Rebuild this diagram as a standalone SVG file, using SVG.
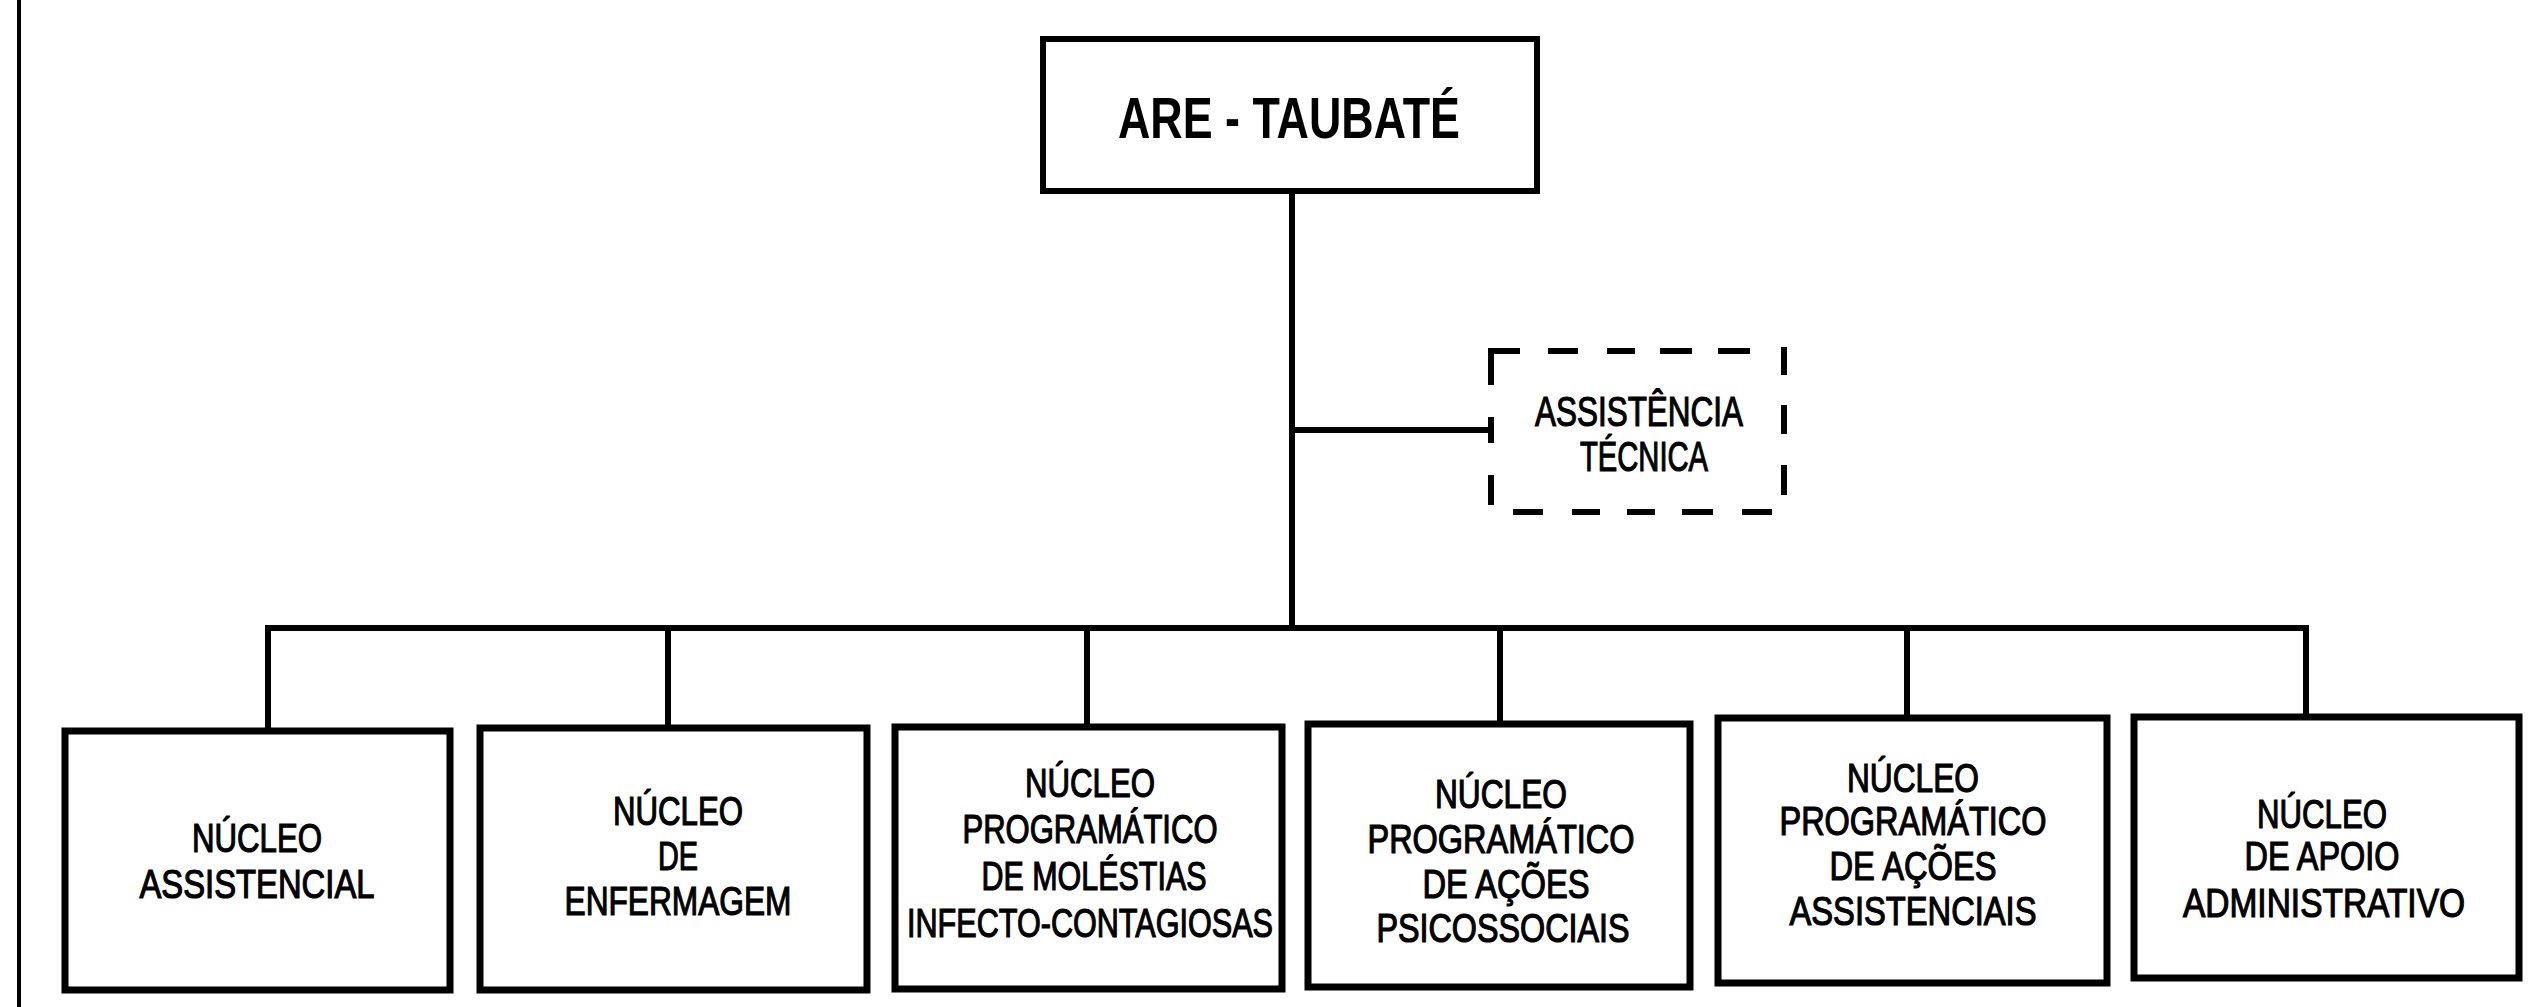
<svg xmlns="http://www.w3.org/2000/svg" width="2537" height="1007" viewBox="0 0 2537 1007">
<style>
.box{fill:#fff;stroke:#000;stroke-width:7}
.top{fill:#fff;stroke:#000;stroke-width:6}
.dash{fill:none;stroke:#000;stroke-width:6}
.ln{fill:none;stroke:#000;stroke-width:6}
.t{font-family:"Liberation Sans",Arial,sans-serif;font-size:40px;fill:#000;stroke:#000;stroke-width:1.2;text-anchor:middle}
.tb{font-family:"Liberation Sans",Arial,sans-serif;font-size:57px;font-weight:bold;fill:#000;text-anchor:middle}
.ta{font-family:"Liberation Sans",Arial,sans-serif;font-size:42px;fill:#000;stroke:#000;stroke-width:1.2;text-anchor:middle}
</style>
<rect width="2537" height="1007" fill="#fff"/>
<line x1="19" y1="0" x2="19" y2="1007" stroke="#000" stroke-width="4"/>
<g id="connectors">
<path class="ln" d="M1292,191 V628 M1292,430 H1491 M268,731 V628 H2306 V717 M668,628 V728 M1087,628 V727 M1500,628 V724 M1907,628 V718"/>
</g>
<g id="are-taubate">
<rect class="top" x="1043" y="39" width="494" height="152"/>
<text class="tb" x="1289" y="138" textLength="342" lengthAdjust="spacingAndGlyphs">ARE - TAUBATÉ</text>
</g>
<g id="assistencia-tecnica">
<path class="dash" d="M1491,385 V351 H1520 M1548,351 H1578 M1607,351 H1635 M1660,351 H1692 M1718,351 H1750 M1784,347 V375 M1784,405 V434 M1784,465 V495 M1772,512 H1742 M1713,512 H1682 M1655,512 H1627 M1600,512 H1572 M1543,512 H1513 M1491,505 V475 M1491,443 V417"/>
<text class="ta" x="1639" y="426" textLength="208" lengthAdjust="spacingAndGlyphs">ASSISTÊNCIA</text>
<text class="ta" x="1644" y="471" textLength="128" lengthAdjust="spacingAndGlyphs">TÉCNICA</text>
</g>
<g id="nucleo-assistencial">
<rect class="box" x="65" y="731" width="385" height="259"/>
<text class="t" x="257" y="852" textLength="130" lengthAdjust="spacingAndGlyphs">NÚCLEO</text>
<text class="t" x="257" y="898" textLength="235" lengthAdjust="spacingAndGlyphs">ASSISTENCIAL</text>
</g>
<g id="nucleo-enfermagem">
<rect class="box" x="480" y="728" width="387" height="262"/>
<text class="t" x="678" y="825" textLength="130" lengthAdjust="spacingAndGlyphs">NÚCLEO</text>
<text class="t" x="678" y="870" textLength="40" lengthAdjust="spacingAndGlyphs">DE</text>
<text class="t" x="678" y="915" textLength="227" lengthAdjust="spacingAndGlyphs">ENFERMAGEM</text>
</g>
<g id="nucleo-molestias">
<rect class="box" x="895" y="727" width="387" height="262"/>
<text class="t" x="1090" y="797" textLength="130" lengthAdjust="spacingAndGlyphs">NÚCLEO</text>
<text class="t" x="1090" y="843" textLength="255" lengthAdjust="spacingAndGlyphs">PROGRAMÁTICO</text>
<text class="t" x="1094" y="890" textLength="225" lengthAdjust="spacingAndGlyphs">DE MOLÉSTIAS</text>
<text class="t" x="1090" y="937" textLength="366" lengthAdjust="spacingAndGlyphs">INFECTO-CONTAGIOSAS</text>
</g>
<g id="nucleo-psicossociais">
<rect class="box" x="1308" y="724" width="382" height="263"/>
<text class="t" x="1501" y="808" textLength="132" lengthAdjust="spacingAndGlyphs">NÚCLEO</text>
<text class="t" x="1501" y="853" textLength="267" lengthAdjust="spacingAndGlyphs">PROGRAMÁTICO</text>
<text class="t" x="1506" y="898" textLength="167" lengthAdjust="spacingAndGlyphs">DE AÇÕES</text>
<text class="t" x="1503" y="942" textLength="253" lengthAdjust="spacingAndGlyphs">PSICOSSOCIAIS</text>
</g>
<g id="nucleo-assistenciais">
<rect class="box" x="1718" y="718" width="389" height="265"/>
<text class="t" x="1913" y="792" textLength="132" lengthAdjust="spacingAndGlyphs">NÚCLEO</text>
<text class="t" x="1913" y="835" textLength="267" lengthAdjust="spacingAndGlyphs">PROGRAMÁTICO</text>
<text class="t" x="1913" y="880" textLength="167" lengthAdjust="spacingAndGlyphs">DE AÇÕES</text>
<text class="t" x="1913" y="925" textLength="247" lengthAdjust="spacingAndGlyphs">ASSISTENCIAIS</text>
</g>
<g id="nucleo-apoio">
<rect class="box" x="2134" y="717" width="385" height="261"/>
<text class="t" x="2322" y="828" textLength="130" lengthAdjust="spacingAndGlyphs">NÚCLEO</text>
<text class="t" x="2322" y="870" textLength="155" lengthAdjust="spacingAndGlyphs">DE APOIO</text>
<text class="t" x="2324" y="917" textLength="282" lengthAdjust="spacingAndGlyphs">ADMINISTRATIVO</text>
</g>
</svg>
